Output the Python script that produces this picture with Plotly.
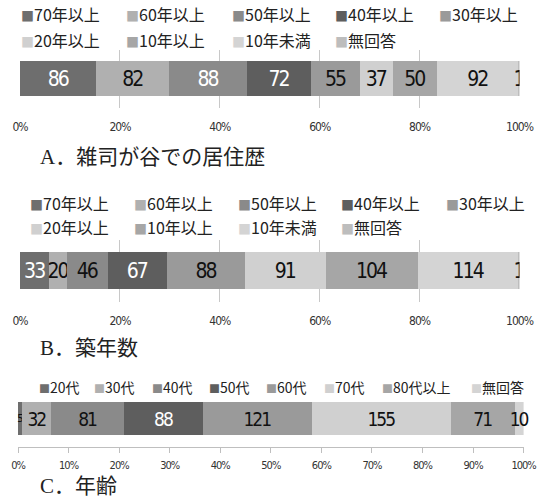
import plotly.graph_objects as go

# ---------------- data ----------------
year_categories = ["70年以上", "60年以上", "50年以上", "40年以上", "30年以上",
                   "20年以上", "10年以上", "10年未満", "無回答"]
residence_counts = [86, 82, 88, 72, 55, 37, 50, 92, 1]
building_age_counts = [33, 20, 46, 67, 88, 91, 104, 114, 1]
age_categories = ["20代", "30代", "40代", "50代", "60代", "70代", "80代以上", "無回答"]
age_counts = [5, 32, 81, 88, 121, 155, 71, 10]
captions = ["A．雑司が谷での居住歴", "B．築年数", "C．年齢"]
ticks_ab = [0, 20, 40, 60, 80, 100]
ticks_c = [0, 10, 20, 30, 40, 50, 60, 70, 80, 90, 100]

# ---------------- style ----------------
W, H = 545, 498
grays = ["#6e6e6e", "#b0b0b0", "#8a8a8a", "#5e5e5e", "#9a9a9a",
         "#d0d0d0", "#a6a6a6", "#d4d4d4", "#bdbdbd"]
NARROW = "DejaVu Sans Condensed, Liberation Sans, Noto Sans CJK JP"
LEGF = "Noto Sans CJK JP, Liberation Sans"
CAPF = "Liberation Serif, Noto Sans CJK JP"


def px_x(p):
    return p / W


def px_y(p):
    return 1 - p / H


def tight(s, sp):
    return f"<span style='letter-spacing:{sp}px'>{s}</span>"


charts = [
    dict(cats=year_categories, vals=residence_counts, ax="", white={0, 2, 3},
         xdom=(20, 519.5), ydom=(49.5, 108), size=21, small={}),
    dict(cats=year_categories, vals=building_age_counts, ax="2", white={0, 3},
         xdom=(20, 519.5), ydom=(239.5, 301.5), size=21, small={}),
    dict(cats=age_categories, vals=age_counts, ax="3", white={3},
         xdom=(18, 523.6), ydom=(390.5, 446.5), size=19, small={0: 11}),
]

fig = go.Figure()
for ch in charts:
    for i, (c, v) in enumerate(zip(ch["cats"], ch["vals"])):
        fig.add_trace(go.Bar(
            x=[v], y=["s"], orientation="h", name=c,
            marker=dict(color=grays[i], line=dict(width=0)),
            text=[tight(v, -2)], textposition="inside", insidetextanchor="middle",
            textangle=0, constraintext="none",
            cliponaxis=(ch["ax"] != "3"),
            textfont=dict(family=NARROW, size=ch["small"].get(i, ch["size"]),
                          color="#ffffff" if i in ch["white"] else "#111111"),
            showlegend=False, hoverinfo="name+x",
            xaxis="x" + ch["ax"], yaxis="y" + ch["ax"],
        ))

layout = dict(
    width=W, height=H, margin=dict(l=0, r=0, t=0, b=0, autoexpand=False),
    paper_bgcolor="white", plot_bgcolor="white",
    barmode="stack", barnorm="percent", bargap=0.4,
    showlegend=False, font=dict(family=NARROW, color="#222"),
)
for ch in charts:
    k = ch["ax"]
    is_c = k == "3"
    tv = ticks_c if is_c else ticks_ab
    layout["xaxis" + k] = dict(
        domain=[px_x(ch["xdom"][0]), px_x(ch["xdom"][1])],
        anchor="y" + k, range=[0, 100], fixedrange=True, automargin=False,
        tickmode="array", tickvals=tv,
        ticktext=[tight(f"{t}%", -1) for t in tv],
        showgrid=not is_c, gridcolor="#c8c8c8", gridwidth=1,
        zeroline=False,
        showline=is_c, linecolor="#bfbfbf", linewidth=1,
        ticks="outside" if is_c else "", ticklen=5, tickcolor="#bfbfbf",
        ticklabelstandoff=3 if is_c else 10,
        tickfont=dict(family=NARROW, size=11 if is_c else 12, color="#333"),
    )
    layout["yaxis" + k] = dict(
        domain=[px_y(ch["ydom"][1]), px_y(ch["ydom"][0])],
        anchor="x" + k, showticklabels=False, showgrid=False,
        zeroline=False, fixedrange=True, automargin=False,
    )

annotations = []
# legends (built from the category lists)
legend_specs = [
    (year_categories, [19, 124, 230, 333, 437], [14, 40], 5, 16),
    (year_categories, [28, 132, 236, 339, 444], [203, 227], 5, 16),
    (age_categories, [36.5, 92, 150, 207, 264, 322, 379.5, 469], [387], 8, 14),
]
for cats, xs, ys, per_row, fs in legend_specs:
    for i, c in enumerate(cats):
        r, col = divmod(i, per_row)
        annotations.append(dict(
            xref="paper", yref="paper", x=px_x(xs[col]), y=px_y(ys[r]),
            xanchor="left", yanchor="middle", showarrow=False,
            text=(f"<span style='color:{grays[i]};font-size:{fs - 3}px'>■</span>"
                  f"{c}"),
            font=dict(family=LEGF, size=fs, color="#222"),
        ))
# captions
for cap, yc in zip(captions, [157, 348, 486]):
    annotations.append(dict(
        xref="paper", yref="paper", x=px_x(38), y=px_y(yc),
        xanchor="left", yanchor="middle", showarrow=False,
        text=cap, font=dict(family=CAPF, size=21, color="#222"),
    ))
layout["annotations"] = annotations

fig.update_layout(**layout)
fig.write_html("out.html")
